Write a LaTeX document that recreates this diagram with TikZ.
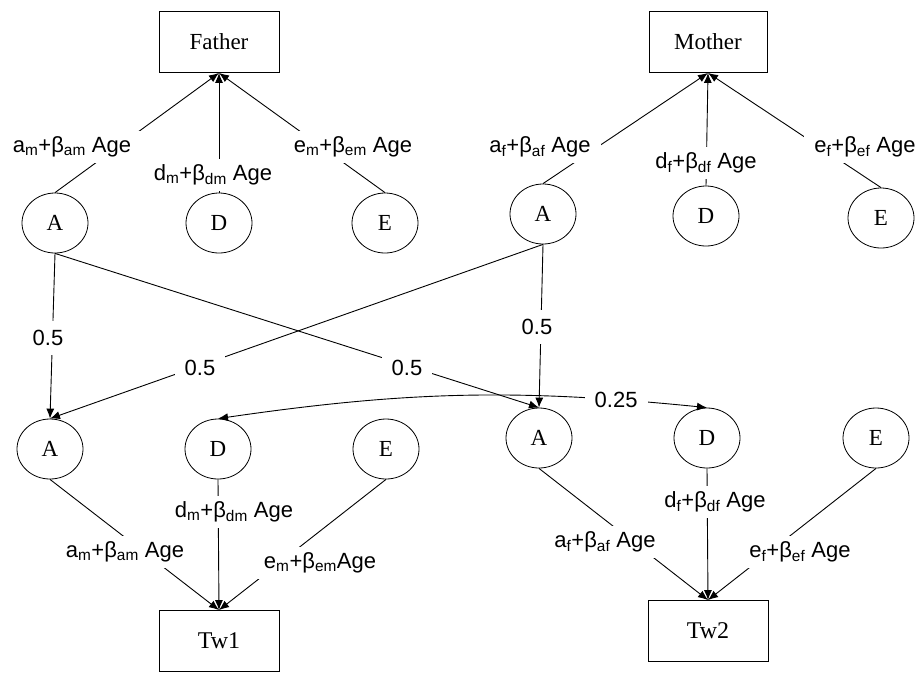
\documentclass[tikz,border=0pt]{standalone}
\usepackage{fontspec}
\setmainfont{Liberation Serif}
\newfontfamily\lblfont{Liberation Sans}
\usetikzlibrary{arrows.meta}
\usetikzlibrary{shapes}
\usetikzlibrary{positioning}

\begin{document}
\begin{tikzpicture}[x=1pt,y=-1pt]
    \useasboundingbox (0,0) rectangle (920,673);
    \begin{scope}[every node/.style={draw,line width=0.8pt}]
    % people
    \node[minimum width=120pt,minimum height=61pt,font=\fontsize{23}{26}\selectfont] (father) at (219,42) {Father};
    \node[minimum width=118pt,minimum height=61pt,font=\fontsize{23}{26}\selectfont] (mother) at (708,42) {Mother};
    \node[minimum width=120pt,minimum height=61pt,font=\fontsize{24}{26}\selectfont] (tw1) at (219,641) {Tw1};
    \node[minimum width=120pt,minimum height=61pt,font=\fontsize{24}{26}\selectfont] (tw2) at (708,631) {Tw2};
    \end{scope}
    \begin{scope}[every node/.style={ellipse,draw,line width=0.8pt,minimum width=66pt,minimum height=60pt,inner sep=0pt,font=\fontsize{23}{25}\selectfont}]
    % latent factors
    \node (fa) at (55,223) {A};
    \node (fd) at (219,223) {D};
    \node (fe) at (385,223) {E};
    \node (ma) at (543,214) {A};
    \node (md) at (706,216) {D};
    \node (me) at (881,218) {E};
    \node (ta1) at (50,449) {A};
    \node (td1) at (218,449) {D};
    \node (te1) at (386,449) {E};
    \node (ta2) at (539,438) {A};
    \node (td2) at (707,438) {D};
    \node (te2) at (876,438) {E};
    \end{scope}
    \begin{scope}[every edge/.style={draw=black,line width=0.9pt},> = {Latex[length=10pt,width=8pt]}]
    \path (fa.north) edge[->] (father.south);
    \path (fd.north) edge[->] (father.south);
    \path (fe.north) edge[->] (father.south);
    \path (ma.north) edge[->] (mother.south);
    \path (md.north) edge[->] (mother.south);
    \path (me.north) edge[->] (mother.south);
    \path (fa.south) edge[->] (ta1.north);
    \path (fa.south) edge[->] (ta2.north);
    \path (ma.south) edge[->] (ta1.north);
    \path (ma.south) edge[->] (ta2.north);
    \path (td1.north) edge[<->,bend left=7] node[pos=0.83,fill=white,inner xsep=10pt,inner ysep=5pt,font=\lblfont\fontsize{22}{24}\selectfont] (l25) {0.25} (td2.north);
    \path (ta1.south) edge[->] (tw1.north);
    \path (td1.south) edge[->] (tw1.north);
    \path (te1.south) edge[->] (tw1.north);
    \path (ta2.south) edge[->] (tw2.north);
    \path (td2.south) edge[->] (tw2.north);
    \path (te2.south) edge[->] (tw2.north);
    \end{scope}
    \begin{scope}[every node/.style={fill=white,inner xsep=10pt,inner ysep=6pt,font=\lblfont\fontsize{22}{24}\selectfont}]
    % path coefficients
    \node (lfam) at (72,147) {a\textsubscript{m}+β\textsubscript{am} Age};
    \node (lfdm) at (213,175) {d\textsubscript{m}+β\textsubscript{dm} Age};
    \node (lfem) at (353,147) {e\textsubscript{m}+β\textsubscript{em} Age};
    \node (lmaf) at (540,147) {a\textsubscript{f}+β\textsubscript{af} Age};
    \node (lmdf) at (706,163) {d\textsubscript{f}+β\textsubscript{df} Age};
    \node (lmef) at (865,147) {e\textsubscript{f}+β\textsubscript{ef} Age};
    \node[inner ysep=9pt] (l1) at (48,338) {0.5};
    \node[inner ysep=8pt] (l2) at (200,368) {0.5};
    \node[inner ysep=8pt] (l3) at (407,368) {0.5};
    \node[inner ysep=9pt] (l4) at (537,327) {0.5};
    \node (ltam) at (125,552) {a\textsubscript{m}+β\textsubscript{am} Age};
    \node (ltdm) at (234,512) {d\textsubscript{m}+β\textsubscript{dm} Age};
    \node (ltem) at (320,563) {e\textsubscript{m}+β\textsubscript{em}Age};
    \node (ltaf) at (605,542) {a\textsubscript{f}+β\textsubscript{af} Age};
    \node (ltdf) at (715,502) {d\textsubscript{f}+β\textsubscript{df} Age};
    \node (ltef) at (800,552) {e\textsubscript{f}+β\textsubscript{ef} Age};
    \end{scope}
\end{tikzpicture}
\end{document}
